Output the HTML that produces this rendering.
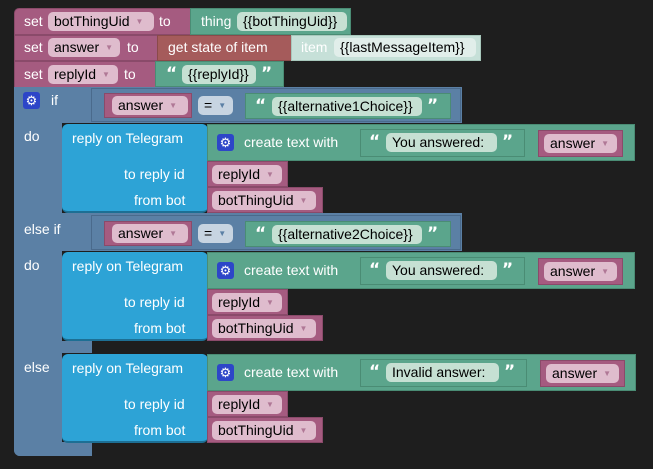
<!DOCTYPE html>
<html><head><style>
body{margin:0;width:653px;height:469px;background:#1e1e1e;position:relative;overflow:hidden;font-family:"Liberation Sans",sans-serif;font-size:14px}
div{position:absolute;box-sizing:border-box}
.t{color:#fff;white-space:nowrap;line-height:16px}
.v{background:#a55b80;border:1px solid #8a4a6a}
.g{background:#5ba58c;border:1px solid #4a8c74}
.l{background:#5b80a5}
.b{background:#2da3d6;border-radius:6px;border-bottom:2px solid #1d6f94}
.f{border-radius:5px;color:#000;white-space:nowrap;line-height:18px;padding-left:6px}
.fv{background:#dfbccd}
.fg{background:#c6e0d3}
.fb{background:#c7d4e1}
.dd{color:#b07896;font-size:8px;margin-left:6px;vertical-align:2px}
.gear{width:17px;height:17px;background:#2d46c8;border-radius:3px;color:#fff;font-size:13px;text-align:center;line-height:17px}
.q{color:#fff;font-weight:bold;font-family:"DejaVu Sans",sans-serif;font-size:17px;line-height:18px}
</style></head><body>
<!-- row1 -->
<div class="v" style="left:14px;top:8px;width:177px;height:27px;border-radius:5px 0 0 0"></div>
<div class="t" style="left:24px;top:13px">set</div>
<div class="f fv" style="left:48px;top:12px;width:106px;height:19px">botThingUid<span class="dd">▼</span></div>
<div class="t" style="left:159px;top:13px">to</div>
<div class="g" style="left:190px;top:8px;width:161px;height:27px"></div>
<div class="t" style="left:201px;top:13px">thing</div>
<div class="f fg" style="left:237px;top:12px;width:110px;height:19px">{{botThingUid}}</div>
<!-- row2 -->
<div class="v" style="left:14px;top:35px;width:145px;height:26px"></div>
<div class="t" style="left:24px;top:39px">set</div>
<div class="f fv" style="left:48px;top:38px;width:72px;height:19px">answer<span class="dd">▼</span></div>
<div class="t" style="left:127px;top:39px">to</div>
<div style="left:157px;top:35px;width:136px;height:26px;background:#a55b5b;border:1px solid #8a4a4a"></div>
<div class="t" style="left:168px;top:39px">get state of item</div>
<div style="left:291px;top:35px;width:190px;height:26px;background:#c6e0d8;border:1px solid #a8c8bc"></div>
<div class="t" style="left:301px;top:39px">item</div>
<div class="f" style="left:334px;top:38px;width:142px;height:19px;background:#e1eeea">{{lastMessageItem}}</div>
<!-- row3 -->
<div class="v" style="left:14px;top:61px;width:143px;height:27px"></div>
<div class="t" style="left:24px;top:66px">set</div>
<div class="f fv" style="left:48px;top:65px;width:70px;height:19px">replyId<span class="dd">▼</span></div>
<div class="t" style="left:124px;top:66px">to</div>
<div class="g" style="left:155px;top:61px;width:129px;height:26px"></div>
<div class="q" style="left:166px;top:65px">“</div>
<div class="f fg" style="left:182px;top:65px;width:74px;height:19px">{{replyId}}</div>
<div class="q" style="left:261px;top:65px">”</div>
<!-- if block spine -->
<div class="l" style="left:14px;top:87px;width:48px;height:369px;border-radius:0 0 0 6px"></div>
<div class="l" style="left:14px;top:87px;width:448px;height:36px"></div>
<div class="l" style="left:14px;top:213px;width:448px;height:38px"></div>
<div class="l" style="left:14px;top:341px;width:78px;height:12px"></div>
<div class="l" style="left:14px;top:442px;width:78px;height:14px;border-radius:0 0 0 6px"></div>
<div class="gear" style="left:23px;top:92px">⚙</div>
<div class="t" style="left:51px;top:92px">if</div>
<div class="t" style="left:24px;top:128px">do</div>
<div class="t" style="left:24px;top:221px">else if</div>
<div class="t" style="left:24px;top:257px">do</div>
<div class="t" style="left:24px;top:359px">else</div>
<!-- compare 1 -->
<div style="left:91px;top:88px;width:370px;height:34px;border:1px solid #4a6a8c"></div>
<div class="v" style="left:104px;top:93px;width:88px;height:25px"></div>
<div class="f fv" style="left:112px;top:96px;width:76px;height:19px">answer<span class="dd">▼</span></div>
<div class="f fb" style="left:198px;top:96px;width:35px;height:19px">=<span class="dd" style="color:#5b80a5">▼</span></div>
<div class="g" style="left:245px;top:93px;width:206px;height:26px"></div>
<div class="q" style="left:255px;top:97px">“</div>
<div class="f fg" style="left:272px;top:97px;width:150px;height:19px">{{alternative1Choice}}</div>
<div class="q" style="left:427px;top:97px">”</div>
<!-- compare 2 -->
<div style="left:91px;top:215px;width:370px;height:35px;border:1px solid #4a6a8c"></div>
<div class="v" style="left:104px;top:221px;width:88px;height:25px"></div>
<div class="f fv" style="left:112px;top:224px;width:76px;height:19px">answer<span class="dd">▼</span></div>
<div class="f fb" style="left:198px;top:224px;width:35px;height:19px">=<span class="dd" style="color:#5b80a5">▼</span></div>
<div class="g" style="left:245px;top:221px;width:206px;height:26px"></div>
<div class="q" style="left:255px;top:225px">“</div>
<div class="f fg" style="left:272px;top:225px;width:150px;height:19px">{{alternative2Choice}}</div>
<div class="q" style="left:427px;top:225px">”</div>

<!-- reply blocks -->
<div class="b" style="left:62px;top:124px;width:146px;height:89px"></div>
<div class="t" style="left:72px;top:130px">reply on Telegram</div>
<div class="t" style="left:124px;top:166px">to reply id</div>
<div class="t" style="left:134px;top:192px">from bot</div>
<div class="g" style="left:207px;top:124px;width:428px;height:37px"></div>
<div class="gear" style="left:217px;top:134px">⚙</div>
<div class="t" style="left:244px;top:134px">create text with</div>
<div class="g" style="left:360px;top:129px;width:165px;height:28px"></div>
<div class="q" style="left:369px;top:133px">“</div>
<div class="f fg" style="left:386px;top:133px;width:111px;height:19px">You answered:</div>
<div class="q" style="left:502px;top:133px">”</div>
<div class="v" style="left:538px;top:130px;width:85px;height:27px"></div>
<div class="f fv" style="left:544px;top:134px;width:73px;height:19px">answer<span class="dd">▼</span></div>
<div class="v" style="left:207px;top:161px;width:81px;height:26px"></div>
<div class="f fv" style="left:212px;top:165px;width:70px;height:19px">replyId<span class="dd">▼</span></div>
<div class="v" style="left:207px;top:187px;width:116px;height:26px"></div>
<div class="f fv" style="left:212px;top:191px;width:104px;height:19px">botThingUid<span class="dd">▼</span></div>

<div class="b" style="left:62px;top:252px;width:146px;height:89px"></div>
<div class="t" style="left:72px;top:258px">reply on Telegram</div>
<div class="t" style="left:124px;top:294px">to reply id</div>
<div class="t" style="left:134px;top:320px">from bot</div>
<div class="g" style="left:207px;top:252px;width:428px;height:37px"></div>
<div class="gear" style="left:217px;top:262px">⚙</div>
<div class="t" style="left:244px;top:262px">create text with</div>
<div class="g" style="left:360px;top:257px;width:165px;height:28px"></div>
<div class="q" style="left:369px;top:261px">“</div>
<div class="f fg" style="left:386px;top:261px;width:111px;height:19px">You answered:</div>
<div class="q" style="left:502px;top:261px">”</div>
<div class="v" style="left:538px;top:258px;width:85px;height:27px"></div>
<div class="f fv" style="left:544px;top:262px;width:73px;height:19px">answer<span class="dd">▼</span></div>
<div class="v" style="left:207px;top:289px;width:81px;height:26px"></div>
<div class="f fv" style="left:212px;top:293px;width:70px;height:19px">replyId<span class="dd">▼</span></div>
<div class="v" style="left:207px;top:315px;width:116px;height:26px"></div>
<div class="f fv" style="left:212px;top:319px;width:104px;height:19px">botThingUid<span class="dd">▼</span></div>

<div class="b" style="left:62px;top:354px;width:146px;height:89px"></div>
<div class="t" style="left:72px;top:360px">reply on Telegram</div>
<div class="t" style="left:124px;top:396px">to reply id</div>
<div class="t" style="left:134px;top:422px">from bot</div>
<div class="g" style="left:207px;top:354px;width:429px;height:37px"></div>
<div class="gear" style="left:217px;top:364px">⚙</div>
<div class="t" style="left:244px;top:364px">create text with</div>
<div class="g" style="left:360px;top:359px;width:167px;height:28px"></div>
<div class="q" style="left:369px;top:363px">“</div>
<div class="f fg" style="left:386px;top:363px;width:113px;height:19px">Invalid answer:</div>
<div class="q" style="left:504px;top:363px">”</div>
<div class="v" style="left:540px;top:360px;width:85px;height:27px"></div>
<div class="f fv" style="left:546px;top:364px;width:73px;height:19px">answer<span class="dd">▼</span></div>
<div class="v" style="left:207px;top:391px;width:81px;height:26px"></div>
<div class="f fv" style="left:212px;top:395px;width:70px;height:19px">replyId<span class="dd">▼</span></div>
<div class="v" style="left:207px;top:417px;width:116px;height:26px"></div>
<div class="f fv" style="left:212px;top:421px;width:104px;height:19px">botThingUid<span class="dd">▼</span></div>
</body></html>
